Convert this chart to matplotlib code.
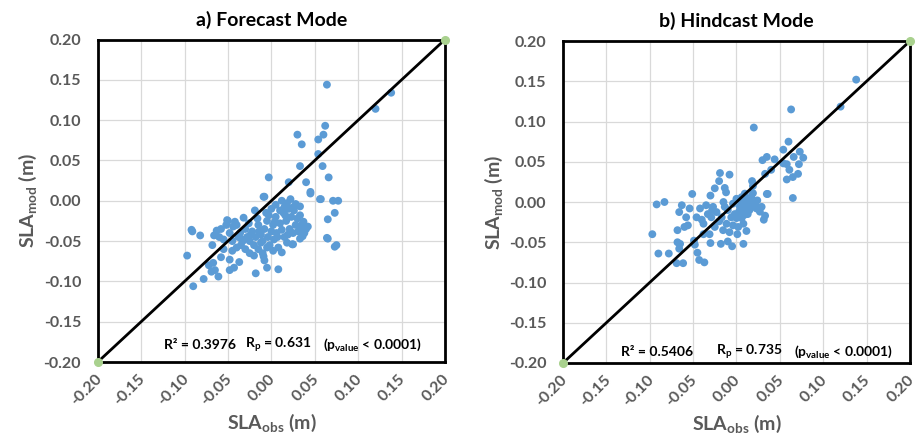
import numpy as np
import matplotlib
matplotlib.use("Agg")
import matplotlib.pyplot as plt
import matplotlib.transforms as mtransforms

# ---- data ----
# a) Forecast mode: SLA_obs, SLA_mod (m)
fc_obs = [0.138, 0.120, 0.064, 0.062, 0.060, 0.054, 0.030, 0.035, 0.054, 0.033,
          0.059, 0.066, -0.003, 0.020, 0.040, 0.045, -0.008, 0.057, 0.071, 0.077,
          0.073, 0.065, 0.065, 0.073, 0.075, 0.033, 0.045, 0.056, 0.033, 0.035,
          0.024, 0.064,
          -0.092, -0.091, -0.082, -0.097, -0.090, -0.078, -0.068, -0.067, -0.069, -0.065,
          -0.061, -0.048, -0.048, -0.043, -0.037, -0.018, -0.005, -0.009, -0.008, 0.008,
          0.012, 0.025, 0.033, 0.036, -0.050, -0.063, -0.066, -0.055, -0.055,
          -0.051, -0.044, -0.032, -0.019, -0.009, -0.040, -0.036, -0.030, -0.028, -0.025,
          -0.022, -0.020, -0.018, -0.015, -0.012, -0.010, -0.008, -0.005, -0.004, -0.002,
          0.000, 0.002, 0.003, 0.005, 0.006, 0.008, 0.010, 0.012, 0.014, 0.015,
          0.017, 0.018, 0.020, 0.021, 0.023, 0.025, 0.026, 0.028, 0.030, 0.031,
          0.033, 0.035, 0.037, 0.038, 0.040, 0.042,
          -0.035, -0.030, -0.025, -0.015, -0.010, -0.045, -0.040, -0.038, -0.048, -0.058,
          -0.060, -0.045, -0.020, 0.002, -0.005,
          0.005, 0.012, 0.018, 0.022, 0.028, 0.010, 0.000, -0.003, 0.015, 0.025,
          -0.026, -0.016, -0.006, 0.004, 0.016, -0.034, -0.024, -0.012, 0.007, 0.019,
          -0.042, -0.052, -0.033, -0.014, -0.072, -0.058]
fc_mod = [0.134, 0.114, 0.144, 0.093, 0.082, 0.076, 0.082, 0.070, 0.058, 0.043,
          0.043, 0.029, 0.029, 0.023, 0.023, 0.009, 0.005, 0.002, 0.000, 0.000,
          -0.015, -0.023, -0.047, -0.057, -0.055, -0.007, 0.011, 0.002, -0.033, -0.040,
          -0.054, -0.046,
          -0.036, -0.038, -0.043, -0.068, -0.106, -0.097, -0.055, -0.077, -0.088, -0.086,
          -0.094, -0.073, -0.086, -0.083, -0.076, -0.090, -0.083, -0.069, -0.074, -0.085,
          -0.064, -0.054, -0.047, -0.044, -0.025, -0.037, -0.043, -0.048, -0.060,
          -0.024, -0.032, -0.021, -0.012, 0.005, -0.030, -0.040, -0.035, -0.045, -0.050,
          -0.038, -0.055, -0.045, -0.030, -0.042, -0.050, -0.035, -0.025, -0.045, -0.055,
          -0.038, -0.030, -0.048, -0.020, -0.040, -0.058, -0.028, -0.036, -0.015, -0.045,
          -0.025, -0.052, -0.010, -0.035, -0.020, -0.040, -0.012, -0.030, -0.022, -0.038,
          -0.018, -0.030, -0.026, -0.040, -0.035, -0.032,
          -0.055, -0.060, -0.065, -0.060, -0.065, -0.050, -0.058, -0.045, -0.040, -0.035,
          -0.045, -0.062, -0.068, -0.062, -0.058,
          -0.005, 0.000, -0.003, 0.002, -0.004, -0.012, -0.010, -0.018, -0.008, -0.008,
          -0.028, -0.022, -0.015, -0.026, -0.018, -0.048, -0.042, -0.052, -0.045, -0.042,
          -0.026, -0.030, -0.050, -0.038, -0.080, -0.070]

# b) Hindcast mode
hc_obs = [0.138, 0.120, 0.063, 0.020, 0.060, 0.054, 0.073, 0.066, 0.077, 0.072,
          0.058, 0.054, 0.061, 0.065, 0.071, 0.058, 0.065, 0.044, 0.035, 0.030,
          0.033, 0.040, 0.036, 0.018, 0.019, -0.019, -0.008, -0.020, -0.025, -0.0135,
          -0.051, -0.030, -0.092, -0.083, -0.097, -0.090, -0.078, -0.068, -0.068, -0.065,
          -0.066, -0.069, -0.0615, -0.045, -0.043, -0.037, -0.049, -0.048, -0.030, -0.018,
          -0.010, -0.005, 0.008, 0.0115, 0.001, 0.0315, 0.033, 0.029, 0.023, 0.035,
          -0.063, -0.066, -0.054, -0.058, -0.056, -0.060, -0.042, -0.046, -0.038, -0.035,
          -0.033, -0.029, -0.027, -0.025, -0.031, -0.023, -0.017, -0.0135, -0.0115, -0.008,
          -0.006, -0.004, 0.000, 0.004, 0.006, 0.0096, 0.0115, 0.0146, 0.017, 0.013,
          0.008, 0.002, 0.019, -0.004, -0.0154, -0.038,
          0.003, 0.010, 0.015, -0.002, 0.006, -0.010, 0.020, 0.012, 0.000, -0.015,
          0.005, 0.024, 0.027, -0.020, -0.040, 0.017, 0.009, -0.028, -0.012, 0.022]
hc_mod = [0.152, 0.1185, 0.115, 0.0925, 0.075, 0.065, 0.0625, 0.056, 0.055, 0.047,
          0.047, 0.048, 0.040, 0.031, 0.035, 0.028, 0.005, 0.053, 0.056, 0.052,
          0.035, 0.040, 0.010, 0.026, 0.020, 0.036, 0.034, 0.026, 0.017, 0.0175,
          0.010, 0.008, -0.003, 0.000, -0.040, -0.064, -0.064, -0.035, -0.050, -0.052,
          -0.058, -0.076, -0.076, -0.063, -0.072, -0.075, -0.048, -0.053, -0.051, -0.052,
          -0.049, -0.055, -0.052, -0.036, -0.040, -0.022, -0.017, -0.006, -0.008, 0.010,
          -0.004, -0.0125, -0.008, -0.019, -0.029, -0.031, -0.008, -0.019, -0.027, -0.004,
          -0.015, -0.019, -0.006, -0.031, -0.040, -0.0125, -0.019, -0.006, -0.027, -0.0375,
          -0.019, -0.002, 0.004, -0.006, 0.006, 0.0104, -0.002, 0.004, -0.006, -0.015,
          -0.027, -0.031, 0.011, -0.029, -0.035, -0.040,
          -0.012, -0.008, -0.010, -0.015, -0.020, -0.010, 0.000, 0.002, -0.020, 0.000,
          0.000, 0.002, -0.012, -0.024, -0.022, 0.006, -0.016, -0.010, 0.012, -0.004]

titles = ["a) Forecast Mode", "b) Hindcast Mode"]
r2_text = ["R² = 0.3976", "R² = 0.5406"]
rp_text = ["R$_p$ = 0.631", "R$_p$ = 0.735"]
pv_text = ["(p$_{value}$ < 0.0001)", "(p$_{value}$ < 0.0001)"]
ticks = [-0.20, -0.15, -0.10, -0.05, 0.00, 0.05, 0.10, 0.15, 0.20]
diag = [-0.20, 0.20]

# ---- style ----
plt.rcParams["font.family"] = ["Lato", "DejaVu Sans"]
plt.rcParams["font.weight"] = "bold"
plt.rcParams["axes.labelweight"] = "bold"
plt.rcParams["axes.titleweight"] = "bold"
plt.rcParams["mathtext.default"] = "regular"

BLUE = "#5b9bd5"
GREEN = "#a9d18e"
GRAY = "#595959"

fig = plt.figure(figsize=(9.16, 4.43), dpi=100)
ax_a = fig.add_axes([0.1067, 0.1828, 0.3791, 0.7280])
ax_b = fig.add_axes([0.6146, 0.1806, 0.3788, 0.7268])

panels = [(ax_a, fc_obs, fc_mod, -0.1235, -0.030, 0.060, -0.179),
          (ax_b, hc_obs, hc_mod, -0.1326, -0.024, 0.066, -0.186)]

shift = mtransforms.ScaledTranslation(-3 / 100, 0, fig.dpi_scale_trans)

for i, (ax, xo, ym, x1, x2, x3, ty) in enumerate(panels):
    ax.set_xlim(-0.2, 0.2)
    ax.set_ylim(-0.2, 0.2)
    ax.set_xticks(ticks)
    ax.set_yticks(ticks)
    ax.set_xticklabels([f"{t:.2f}" for t in ticks], rotation=45,
                       ha="right", rotation_mode="anchor", fontweight="bold")
    ax.set_yticklabels([f"{t:.2f}" for t in ticks], fontweight="bold")
    ax.tick_params(length=0, labelsize=11.5, labelcolor=GRAY)
    ax.tick_params(axis="y", pad=12)
    ax.tick_params(axis="x", pad=7)
    for lab in ax.get_xticklabels():
        lab.set_transform(lab.get_transform() + shift)
    ax.grid(True, color="#d9d9d9", lw=0.9)
    ax.set_axisbelow(True)
    for s in ax.spines.values():
        s.set_color("black")
        s.set_linewidth(2)

    ax.scatter(xo, ym, s=32, color=BLUE, edgecolors="none", zorder=3)
    ax.plot(diag, diag, color="black", lw=2, zorder=4)
    ax.plot(diag, diag, ls="none", marker="o", ms=5.5, color=GREEN,
            clip_on=False, zorder=5)

    ax.set_title(titles[i], fontsize=14, fontweight="bold", pad=10)
    ax.set_xlabel("SLA$_{obs}$ (m)", fontsize=14, color=GRAY,
                  fontweight="bold", labelpad=3)
    ax.set_ylabel("SLA$_{mod}$ (m)", fontsize=14, color=GRAY,
                  fontweight="bold", labelpad=3)

    for xx, txt in zip([x1, x2, x3], [r2_text[i], rp_text[i], pv_text[i]]):
        ax.text(xx, ty, txt, fontsize=10, fontweight="bold", color="black",
                ha="left", va="center", zorder=6)

fig.savefig("out.png", dpi=100)
